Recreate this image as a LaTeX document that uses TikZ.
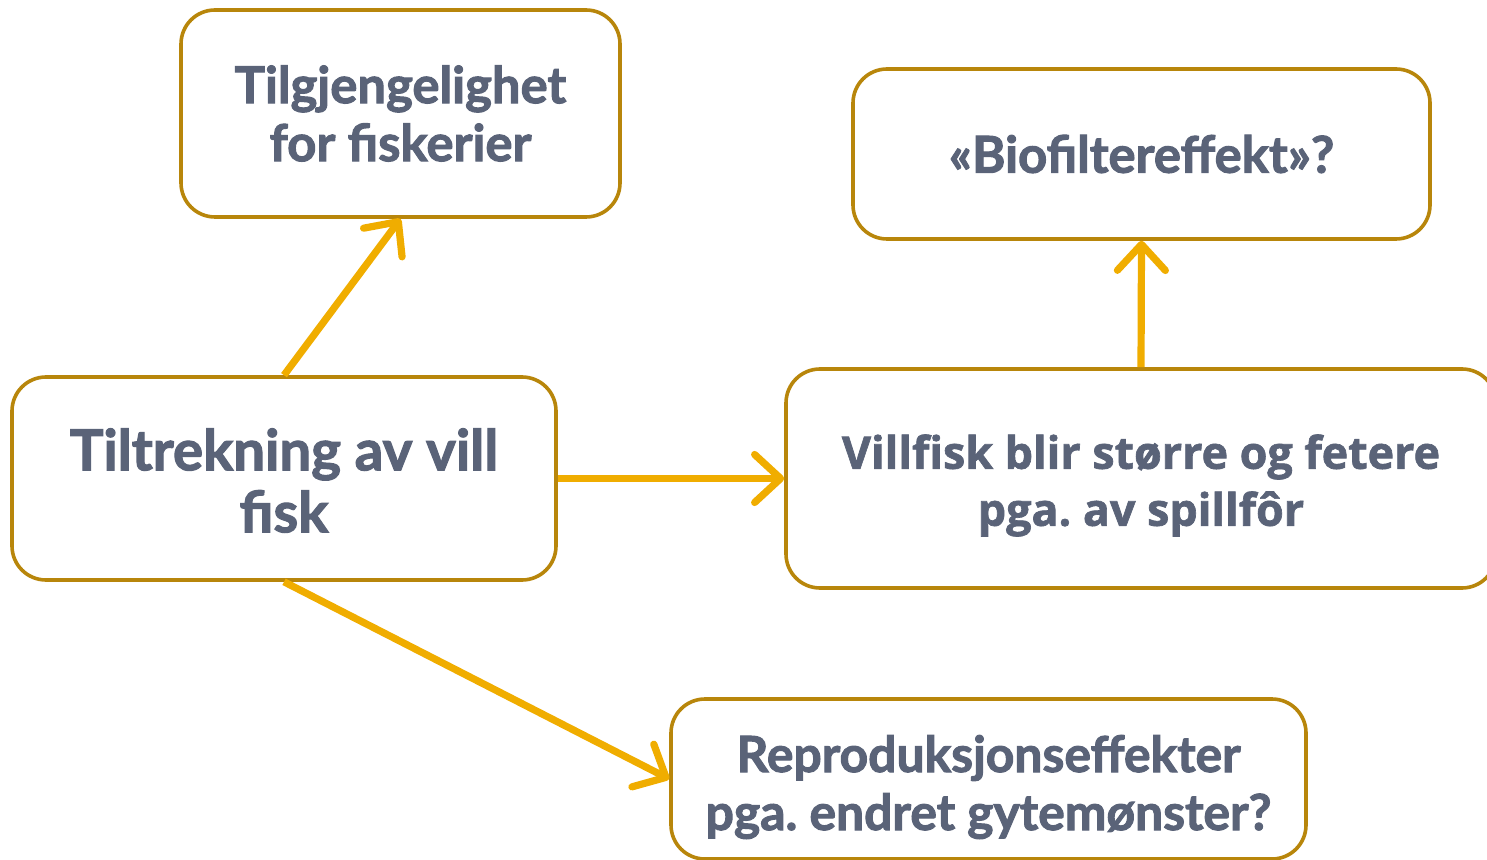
\documentclass[tikz,border=0pt]{standalone}
\usepackage{fontspec}
\setmainfont{Lato}[BoldFeatures={FakeBold=2}]
\newfontfamily\opensans{Open Sans}[BoldFeatures={FakeBold=1.5}]
\usetikzlibrary{arrows.meta}
\frenchspacing
\definecolor{ramme}{RGB}{184,134,11}
\definecolor{pil}{RGB}{240,173,0}
\definecolor{tekst}{RGB}{90,99,120}
\tikzset{
  boks/.style={draw=ramme,line width=1.8pt,rounded corners=17pt,fill=white},
  tekstboks/.style={align=center,text=tekst,font=\bfseries\fontsize{25.4}{29}\selectfont,inner sep=0pt},
  pilen/.style={draw=pil,line width=3.6pt,
    -{Straight Barb[length=13pt,width=24pt,line cap=round,line join=round]}}
}
\begin{document}
\begin{tikzpicture}[x=0.5pt,y=-0.5pt]
\useasboundingbox (0,0) rectangle (1487,860);
\node[boks,minimum width=219.5pt,minimum height=103.5pt] (v1) at (400.5,113.5) {};
\node[tekstboks] (t1) at (v1) {Tilgjengelighet\\for fiskerier};
\node[boks,minimum width=288.5pt,minimum height=85pt] (v2) at (1141.5,154) {};
\node[tekstboks] (t2) at (v2) {«Biofiltereffekt»?};
\node[boks,minimum width=272pt,minimum height=101.5pt] (v3) at (284,478.5) {};
\node[tekstboks,font=\bfseries\fontsize{28.2}{31}\selectfont] (t3) at ([yshift=-1pt]v3) {Tiltrekning av vill\\fisk};
\node[boks,minimum width=355pt,minimum height=109.5pt] (v4) at (1141,478.5) {};
\node[tekstboks,font=\opensans\bfseries\fontsize{22.4}{28.5}\selectfont] (t4) at ([yshift=-3.5pt]v4) {Villfisk blir større og fetere\\pga. av spillfôr};
\node[boks,minimum width=317.5pt,minimum height=80pt] (v5) at (988.5,779) {};
\node[tekstboks,font=\bfseries\fontsize{24.9}{29}\selectfont] (t5) at ([yshift=-4pt]v5) {Reproduksjonseffekter\\pga. endret gytemønster?};
\draw[pilen] (v3.north) -- (v1.south);
\draw[pilen] (v3.east) -- (v4.west);
\draw[pilen] (v4.north) -- (v2.south);
\draw[pilen] (v3.south) -- (v5.west);
\end{tikzpicture}
\end{document}
